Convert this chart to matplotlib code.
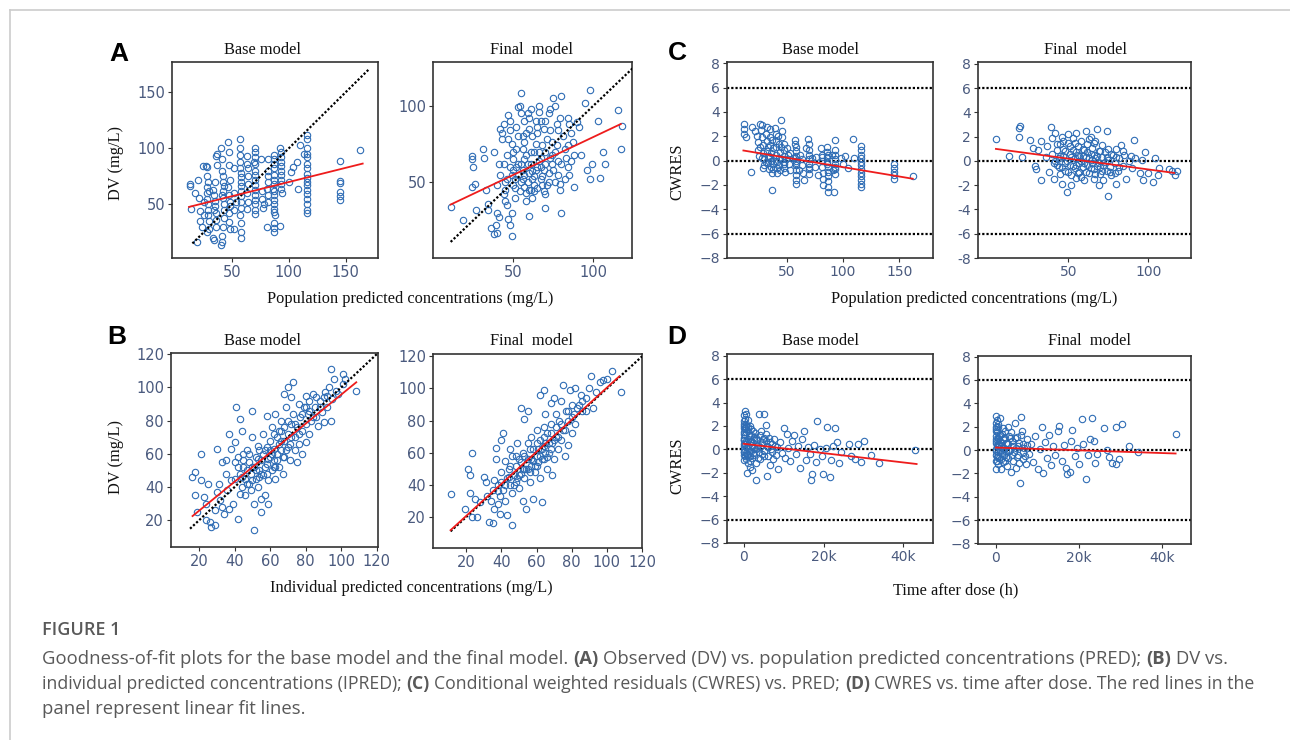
import matplotlib.pyplot as plt
from matplotlib.lines import Line2D
from matplotlib.ticker import FuncFormatter

# ---------------- data ----------------
# panel A, base model: (PRED, DV)
a_base_pts = [
    (13, 68), (13, 66), (14, 46), (17, 60), (19, 16), (20, 72), (21, 56), (22, 44), (22, 35),
    (23, 30), (24, 84), (25, 40), (25, 52),
    (27, 84), (28, 83), (28, 75), (28, 65), (28, 60), (28, 55), (29, 50), (29, 45), (29, 40),
    (30, 35), (30, 28), (28, 25),
    (33, 63), (34, 58), (35, 53), (35, 48), (36, 42), (36, 36), (33, 20), (34, 18), (35, 70),
    (36, 93), (37, 95), (37, 85),
    (40, 100), (41, 90), (41, 80), (42, 75), (42, 70), (42, 62), (42, 56), (43, 50), (43, 45),
    (43, 38), (42, 30), (41, 22), (41, 16), (40, 14),
    (46, 106), (47, 97), (47, 85), (46, 65), (47, 58), (48, 52), (48, 48), (47, 34), (48, 28),
    (52, 82), (52, 60), (52, 45), (52, 28),
    (57, 108), (57, 100), (57, 94), (57, 88), (58, 78), (58, 74), (58, 70), (58, 66), (58, 62),
    (58, 57), (58, 52), (58, 47), (57, 40), (58, 33), (58, 25), (58, 20),
    (63, 93), (63, 86), (64, 75), (64, 68), (63, 60), (64, 52), (63, 46),
    (70, 100), (70, 97), (70, 92), (70, 86), (70, 80), (70, 76), (70, 72), (70, 67), (70, 63),
    (70, 58), (70, 54), (70, 50), (70, 45), (70, 41),
    (75, 90), (76, 62), (76, 55), (78, 50), (77, 47),
    (82, 90), (82, 80), (82, 70), (81, 64), (82, 58), (82, 52), (81, 30),
    (87, 94), (87, 90), (87, 86), (87, 82), (87, 76), (87, 72), (87, 68), (87, 62), (87, 58),
    (87, 54), (87, 50), (87, 46), (87, 43), (87, 33), (87, 29), (87, 25),
    (92, 100), (93, 97), (93, 92), (93, 88), (93, 84), (93, 80), (93, 76), (93, 72), (93, 68),
    (93, 64), (92, 31),
    (102, 79), (104, 83), (107, 88), (110, 103), (113, 95), (108, 64), (100, 70),
    (116, 112), (116, 108), (116, 100), (116, 95), (116, 92), (116, 86), (116, 82), (116, 77),
    (116, 73), (116, 70), (116, 67), (116, 63), (116, 59), (116, 55), (116, 50), (116, 45),
    (116, 42),
    (145, 89), (145, 71), (145, 69), (145, 61), (145, 57), (145, 54),
    (163, 98),
    (29, 70), (30, 62), (34, 45), (36, 30), (41, 58), (43, 66), (47, 42), (48, 72), (53, 52),
    (57, 82), (64, 82), (69, 88), (82, 75), (86, 64), (88, 40), (94, 60),
]
a_base_fit_x = [12, 165]
a_base_fit_y = [47.6, 86.3]
a_base_ident = [15, 170]

# panel A, final model: (PRED, DV)
a_final_pts = [
    (11, 34), (19, 25), (24, 67), (24, 65), (25, 60), (24, 47), (26, 49), (27, 32),
    (31, 72), (32, 66), (33, 45), (34, 36), (34, 32),
    (36, 20), (38, 16), (39, 22), (40, 17), (40, 30), (41, 27),
    (38, 70), (40, 48), (42, 55), (41, 62), (42, 85), (43, 82), (44, 88), (43, 78), (44, 42),
    (45, 50), (45, 45), (45, 38), (46, 35), (47, 26), (48, 22), (49, 30), (49, 15),
    (47, 94), (48, 90), (49, 75), (50, 70), (50, 65), (50, 58), (51, 52), (51, 46), (51, 40),
    (52, 60), (52, 86), (53, 99), (54, 100), (55, 95), (55, 108), (56, 80), (56, 72), (57, 65),
    (57, 55), (57, 47), (58, 43), (58, 38), (59, 95), (60, 92), (60, 85), (60, 28),
    (61, 62), (62, 57), (62, 52), (63, 48), (63, 44), (63, 70), (64, 75), (65, 82), (65, 86),
    (66, 100), (66, 96), (67, 90), (67, 66), (67, 60), (68, 54), (68, 48), (69, 44), (70, 42),
    (70, 33), (70, 70), (71, 78), (72, 95), (73, 84), (74, 68), (74, 62), (75, 58), (75, 105),
    (76, 100), (77, 88), (77, 74), (78, 64), (78, 55), (79, 49), (79, 45), (80, 30), (80, 106),
    (81, 80), (82, 72), (83, 66), (84, 60), (84, 92), (85, 88), (85, 55), (86, 82), (87, 76),
    (88, 68), (88, 47), (90, 89), (91, 86), (92, 68), (95, 102), (98, 110), (96, 58), (98, 52),
    (99, 62), (103, 90), (104, 53), (106, 70), (107, 62), (115, 97), (118, 87), (117, 72),
    (55, 62), (59, 50), (61, 45), (64, 58), (53, 55), (56, 52), (66, 64), (72, 50), (69, 58),
    (44, 62), (46, 68), (47, 78), (48, 84), (49, 55), (50, 48), (52, 72), (53, 62), (54, 44),
    (55, 50), (56, 58), (57, 76), (58, 68), (58, 82), (59, 62), (60, 45), (60, 56), (61, 70),
    (62, 80), (62, 40), (63, 54), (64, 90), (65, 46), (65, 60), (66, 70), (67, 52), (68, 74),
    (69, 85), (70, 62), (71, 48), (72, 56), (73, 66), (74, 76), (76, 50), (76, 70), (78, 84),
    (80, 62), (82, 52), (84, 74), (86, 64), (48, 60), (46, 52), (53, 80), (57, 90), (61, 98),
    (70, 90), (73, 98), (79, 92),
]
a_final_fit_x = [11, 117]
a_final_fit_y = [35.4, 88]
a_final_ident = [11, 135]

# panel B, base model: (IPRED, DV)
b_base_pts = [
    (16, 46), (18, 49), (18, 35), (19, 25), (21, 60), (21, 44), (23, 34), (24, 30), (24, 20),
    (25, 42), (26, 19), (27, 16), (29, 17), (29, 26), (30, 63), (30, 37), (31, 42), (32, 32),
    (33, 28), (33, 55), (34, 24), (35, 48), (35, 56), (36, 38), (37, 27), (37, 72), (38, 63),
    (38, 44), (39, 30), (40, 55), (40, 67), (42, 21), (41, 88), (42, 58), (43, 81), (43, 48),
    (43, 36), (44, 74), (44, 40), (45, 60), (45, 52), (46, 45), (46, 35), (47, 62), (48, 42),
    (48, 55), (49, 48), (49, 38), (50, 86), (51, 14), (50, 70), (51, 52), (51, 30), (52, 58),
    (52, 45), (53, 40), (53, 65), (54, 50), (55, 33), (55, 25), (55, 56), (56, 72), (56, 47),
    (57, 62), (57, 35), (58, 83), (58, 54), (59, 44), (59, 30), (60, 68), (60, 58), (61, 50),
    (61, 76), (62, 63), (62, 56), (63, 45), (63, 84), (64, 70), (64, 60), (65, 52), (65, 66),
    (66, 80), (66, 74), (67, 58), (67, 48), (68, 96), (68, 68), (69, 88), (69, 62), (70, 100),
    (70, 72), (71, 66), (71, 56), (72, 94), (72, 78), (73, 103), (73, 84), (74, 70), (74, 62),
    (75, 76), (75, 55), (76, 90), (76, 66), (77, 82), (78, 74), (78, 60), (79, 88), (80, 95),
    (80, 78), (80, 67), (81, 84), (82, 92), (82, 72), (83, 80), (84, 96), (85, 88), (86, 94),
    (86, 82), (87, 77), (88, 92), (89, 85), (90, 79), (91, 97), (92, 88), (93, 100), (94, 111),
    (94, 80), (95, 93), (96, 105), (97, 98), (98, 96), (101, 108), (101, 102), (102, 105),
    (108, 98), (54, 46), (57, 52), (59, 57), (61, 60), (63, 52), (66, 62), (50, 44), (47, 50),
    (40, 45), (42, 52), (44, 46), (45, 56), (47, 42), (48, 60), (50, 52), (52, 50), (53, 57),
    (54, 62), (55, 48), (56, 60), (58, 48), (58, 64), (60, 62), (62, 52), (62, 72), (64, 56),
    (65, 74), (66, 68), (68, 58), (68, 76), (70, 64), (70, 80), (72, 70), (74, 78), (76, 72),
    (78, 84), (80, 88), (82, 86), (84, 82), (88, 88), (90, 94), (92, 95),
]
b_base_fit_x = [16.4, 108.4]
b_base_fit_y = [22.6, 103]
b_base_ident = [15, 120]

# panel B, final model: (IPRED, DV)
b_final_pts = [
    (11, 34), (19, 25), (21, 50), (22, 46), (22, 35), (23, 60), (23, 20), (25, 31), (26, 20),
    (28, 29), (30, 45), (31, 42), (32, 33), (33, 17), (34, 30), (35, 16), (35, 37), (36, 43),
    (36, 25), (37, 56), (37, 63), (38, 28), (38, 40), (39, 33), (39, 22), (40, 68), (40, 48),
    (41, 72), (41, 37), (42, 30), (42, 55), (43, 44), (43, 21), (44, 50), (45, 62), (45, 40),
    (46, 15), (46, 35), (46, 58), (47, 46), (48, 52), (48, 42), (49, 66), (50, 38), (50, 56),
    (51, 88), (51, 47), (52, 30), (52, 60), (53, 81), (53, 44), (54, 50), (54, 25), (55, 86),
    (55, 66), (55, 56), (56, 42), (57, 70), (57, 52), (58, 31), (58, 62), (59, 48), (60, 74),
    (60, 58), (61, 54), (62, 68), (62, 96), (62, 44), (63, 29), (63, 62), (64, 99), (64, 76),
    (64, 56), (65, 84), (65, 66), (66, 50), (66, 72), (67, 60), (68, 91), (68, 78), (69, 66),
    (69, 46), (70, 94), (70, 56), (71, 84), (71, 70), (72, 62), (73, 80), (74, 92), (74, 68),
    (75, 102), (75, 74), (76, 58), (77, 86), (78, 80), (78, 65), (79, 99), (80, 90), (80, 72),
    (81, 84), (82, 100), (82, 78), (84, 90), (85, 96), (86, 86), (88, 94), (90, 100), (91, 108),
    (92, 88), (94, 98), (96, 104), (98, 105), (100, 106), (103, 111), (108, 98),
    (56, 48), (58, 55), (60, 52), (62, 58), (64, 64), (66, 57), (53, 50), (50, 46), (68, 62),
    (38, 36), (40, 42), (42, 40), (44, 45), (45, 52), (47, 40), (48, 58), (49, 44), (51, 54),
    (52, 50), (53, 58), (55, 50), (56, 62), (57, 56), (59, 52), (60, 66), (61, 62), (63, 56),
    (64, 70), (65, 60), (67, 66), (68, 72), (70, 68), (71, 76), (72, 70), (74, 78), (76, 74),
    (78, 86), (80, 82), (83, 88), (86, 92), (88, 86),
]
b_final_fit_x = [11, 107]
b_final_fit_y = [11.7, 107.5]
b_final_ident = [11, 120]

# panel C, base model: (PRED, CWRES)
c_base_pts = [
    (12, 3.0), (12, 2.6), (12, 2.2), (14, 1.9), (18, -0.9), (19, 2.8), (22, 2.4), (23, 2.0),
    (24, 1.5), (24, 0.9), (25, 0.4), (26, 3.0), (27, 2.5), (28, 2.9), (28, 1.9), (29, 1.3),
    (29, 0.6), (30, 0.1), (30, -0.4), (31, 2.2), (32, 1.6), (32, 0.8), (33, 0.3), (33, -0.2),
    (34, -0.7), (35, 2.6), (35, 1.9), (35, 1.3), (36, 0.6), (36, 0.0), (36, -0.5), (37, -1.0),
    (38, 1.0), (39, 2.7), (40, 2.2), (40, 1.6), (40, 1.1), (40, 0.5), (41, -0.1), (41, -0.6),
    (41, -1.0), (37, -2.4), (43, 1.4), (43, 0.2), (44, -0.8), (45, 3.3), (46, 2.4), (46, 1.9),
    (47, 1.4), (47, 0.9), (47, 0.4), (47, -0.1), (47, -0.6), (48, -0.9), (50, 1.0), (51, 0.5),
    (52, -0.3), (53, -0.8), (55, 0.2), (57, 1.7), (57, 1.4), (58, 1.1), (58, 0.8), (58, 0.4),
    (58, 0.0), (58, -0.4), (58, -0.8), (58, -1.2), (58, -1.6), (58, -1.9), (62, 0.5), (63, 0.1),
    (63, -0.4), (64, -1.0), (65, -1.6), (67, 1.0), (69, 1.8), (70, 1.4), (70, 0.9), (70, 0.5),
    (70, 0.1), (70, -0.3), (70, -0.7), (70, -1.1), (72, 0.2), (75, -0.5), (76, 0.3), (78, -1.2),
    (80, 1.0), (81, 0.5), (81, 0.0), (81, -0.5), (82, -1.0), (82, -1.5), (82, -2.0), (86, 1.1),
    (86, 0.7), (86, 0.3), (86, -0.1), (87, -0.5), (87, -0.9), (87, -1.3), (87, -1.7), (87, -2.2),
    (87, -2.6), (90, 0.5), (91, -0.8), (93, 1.7), (93, 0.9), (93, 0.5), (93, 0.1), (93, -0.3),
    (93, -0.7), (93, -1.1), (92, -2.6), (98, 0.2), (100, -0.3), (102, 0.4), (104, -0.6),
    (109, 1.8), (110, 0.2), (116, 1.2), (116, 0.9), (116, 0.5), (116, 0.2), (116, -0.1),
    (116, -0.4), (116, -0.7), (116, -1.0), (116, -1.3), (116, -1.6), (116, -1.9), (116, -2.2),
    (145, -0.3), (145, -0.6), (145, -0.9), (145, -1.2), (145, -1.5), (162, -1.25),
    (26, 1.1), (31, -0.1), (34, 0.4), (38, -0.3), (44, 0.7), (49, 0.1), (53, 0.6), (61, -0.8),
    (28, 0.2), (29, -0.6), (32, 2.8), (33, 1.1), (35, 0.3), (37, 1.7), (38, -0.7), (40, 0.0),
    (42, 2.0), (43, -0.4), (45, 1.1), (46, 0.1), (47, -0.3), (57, 0.2), (58, -0.2), (70, -0.5),
    (81, 0.3), (86, -0.3), (87, 0.5), (93, -0.5),
]
c_base_fit_x = [11.3, 162]
c_base_fit_y = [0.83, -1.49]

# panel C, final model: (PRED, CWRES)
c_final_pts = [
    (5, 1.8), (13, 0.4), (19, 2.7), (20, 2.9), (19, 2.0), (21, 0.3), (26, 1.7), (28, 1.1),
    (29, -0.4), (30, -0.7), (31, 0.9), (33, 1.6), (33, -1.6), (36, 0.3), (37, 1.2), (38, -0.9),
    (39, 2.8), (40, 1.9), (40, 0.6), (41, -0.2), (41, -1.5), (42, 2.3), (43, 1.4), (43, 0.9),
    (44, 0.2), (44, -0.5), (45, -1.1), (46, -1.9), (46, 2.0), (47, 1.0), (47, 0.4), (48, -0.2),
    (48, -0.8), (49, -2.6), (50, 2.2), (50, 1.5), (51, 0.6), (51, -0.3), (52, -1.2), (52, -2.0),
    (53, 1.9), (53, 0.9), (54, 0.2), (54, -0.6), (55, 2.3), (55, -1.4), (56, 1.2), (56, 0.5),
    (57, -0.2), (57, -0.9), (58, 1.6), (58, 0.0), (59, -0.5), (60, 0.9), (60, -1.6), (61, 2.5),
    (61, 0.3), (62, -0.3), (62, 1.4), (63, -1.0), (64, 2.0), (64, 0.6), (65, -0.2), (65, 1.1),
    (66, -0.7), (66, -1.5), (67, 0.2), (67, 1.6), (68, 2.6), (68, -0.4), (69, 0.8), (69, -2.0),
    (70, -1.1), (71, 0.3), (71, 1.3), (72, -0.3), (72, -1.6), (73, 0.7), (74, 2.5), (74, -0.8),
    (75, 1.0), (75, 0.1), (76, -0.5), (77, -1.2), (78, 0.5), (75, -2.9), (79, -0.2), (80, 1.0),
    (80, -1.9), (81, -0.8), (82, 0.2), (83, 1.3), (84, -0.4), (85, 0.5), (86, -1.5), (88, 0.0),
    (89, 0.4), (90, -0.6), (92, 0.2), (91, 1.7), (95, -1.0), (96, 0.1), (97, -1.6), (98, 0.7),
    (100, -1.0), (103, -1.7), (104, 0.2), (106, -1.2), (107, -0.6), (113, -0.7), (115, -0.8),
    (117, -1.2), (118, -0.8),
    (45, 0.4), (49, 0.0), (52, 0.3), (55, -0.3), (59, 0.4), (63, 0.2), (66, 0.5), (70, -0.5),
    (42, 0.0), (43, -0.3), (45, 1.4), (46, -0.5), (47, 1.6), (48, 0.8), (50, -0.9), (51, 1.2),
    (53, -0.4), (54, 1.5), (55, 0.7), (56, -1.0), (57, 0.4), (58, -1.3), (59, 1.0), (60, -0.2),
    (61, -0.9), (62, 0.7), (63, 1.8), (64, -0.6), (65, 0.1), (66, 1.5), (67, -1.1), (68, 0.4),
    (69, -0.2), (70, 0.8), (71, -0.8), (73, -0.1), (74, 0.3), (76, -0.9), (77, 0.6), (79, -1.0),
    (80, 0.3), (82, -0.5), (84, 0.8),
]
c_final_fit_x = [4.8, 116.2]
c_final_fit_y = [0.99, -0.99]

# panel D, base model: (time after dose, CWRES)
d_base_pts = [
    (0, 2.9), (0, 2.4), (0, 2.0), (0, 1.5), (0, 1.0), (0, 0.5), (0, 0.0), (0, -0.5), (0, -0.9),
    (300, 3.3), (300, 2.6), (400, 1.8), (400, 1.2), (500, 0.7), (500, 0.2), (500, -0.3),
    (600, -0.8), (700, 3.0), (800, -2.0), (1000, 2.5), (1000, 1.6), (1000, 0.9), (1100, 0.3),
    (1200, -0.4), (1200, -1.2), (1500, 2.0), (1500, -1.5), (1800, 1.2), (1800, 0.6),
    (1800, -0.1), (2000, -0.7), (2000, -1.8), (2300, 1.6), (2500, 0.8), (2500, 0.1),
    (2700, -0.5), (3000, -2.6), (3000, 1.0), (3200, -1.2), (3900, 3.0), (3600, 0.4),
    (3800, -0.2), (4000, 1.2), (4200, -0.8), (4500, 0.6), (5000, 3.0), (5000, -0.1),
    (5200, 1.0), (5800, -2.3), (5700, 2.1), (5800, 0.3), (6000, -0.6), (6300, 1.0),
    (6500, -1.3), (7000, 0.5), (7200, -0.2), (7500, 0.9), (8000, -0.5), (8300, 0.2),
    (8700, -1.7), (9000, 0.6), (9500, -0.3), (10000, 1.8), (10300, -0.7), (10800, 1.3),
    (11000, 0.1), (11500, -1.0), (12000, 0.7), (12500, 1.2), (13000, -0.4), (13500, 0.3),
    (14000, -1.6), (14500, 0.9), (15000, 1.6), (15500, -0.9), (16000, 0.2), (16500, -0.4),
    (16800, -2.6), (17100, -2.1), (17500, 0.4), (18000, -1.1), (18300, 2.4), (19000, 0.0),
    (19500, -0.6), (19800, -2.1), (20500, 0.1), (20800, 1.9), (21500, -2.4), (22000, -0.9),
    (22500, 0.3), (22900, 1.8), (23500, 0.6), (24000, -1.2), (24500, -0.2), (26500, 0.5),
    (27000, -0.6), (28000, -0.8), (28700, 0.5), (29500, -1.1), (30200, 0.7), (32000, -0.5),
    (34000, -1.2), (43000, -0.05),
    (100, 1.3), (200, 0.8), (200, -0.2), (700, 1.9), (900, 0.1), (1300, 1.2), (1600, -0.6),
    (2200, 0.4), (2800, 1.4), (3300, 0.1), (4700, -0.4), (5500, 0.7), (6800, 0.0), (7800, 0.3),
    (0, 1.8), (0, 0.8), (0, -0.2), (100, 2.2), (150, 0.3), (300, -0.6), (400, 0.5), (500, 1.5),
    (600, 2.2), (800, 0.6), (900, -0.5), (1100, 1.9), (1300, -0.1), (1500, 0.6), (1700, -1.0),
    (1900, 1.7), (2100, 0.2), (2400, -0.3), (2600, 1.1), (3000, 0.0), (3400, 0.8), (3600, -0.7),
    (4100, 0.2), (4400, 1.6), (4800, 0.9), (5200, -0.6), (5600, 1.3), (6000, 0.2), (6600, 0.6),
    (7400, -0.8),
]
d_base_fit_x = [0, 43300]
d_base_fit_y = [0.48, -1.25]

# panel D, final model: (time after dose, CWRES)
d_final_pts = [
    (0, 2.9), (0, 2.3), (0, 1.8), (0, 1.2), (0, 0.6), (0, 0.1), (0, -0.4), (0, -0.9), (0, -1.6),
    (300, 2.6), (300, 1.5), (400, 0.9), (400, -0.2), (500, -1.2), (600, 2.2), (700, 0.4),
    (800, -0.7), (1000, 2.7), (1000, 1.3), (1100, -1.6), (1300, 0.7), (1500, -0.3), (1700, 1.9),
    (1800, -1.0), (2000, 0.2), (2200, 1.0), (2400, -0.6), (2600, -1.4), (2800, 2.0), (3000, 0.5),
    (3200, -0.1), (3500, -1.9), (3700, 1.5), (4000, 0.3), (4200, -0.9), (4500, 2.3),
    (4700, -1.5), (5000, 1.1), (5200, -0.4), (5500, 0.6), (5800, -2.85), (6000, 2.8),
    (6200, 1.6), (6500, -0.8), (6800, 0.2), (7200, -1.2), (7500, 0.9), (8000, -0.3), (8500, 0.5),
    (9000, -1.0), (9500, 1.2), (10000, -1.6), (10500, 0.1), (11000, 2.0), (11300, -2.0),
    (11800, 0.7), (12300, -0.7), (12800, 1.3), (13300, -1.3), (13800, 0.3), (14300, -0.4),
    (15000, 1.6), (15200, 2.05), (15800, -0.9), (16300, 0.4), (16800, -1.5), (17000, -2.05),
    (17800, -1.9), (18000, 0.8), (18400, 1.75), (19000, -0.5), (19500, 0.2), (20000, -1.2),
    (20600, 2.65), (21000, 0.5), (21600, -2.5), (22200, -0.4), (22700, 0.9), (23200, 2.7),
    (23500, 0.8), (23800, -1.1), (24300, -0.3), (26000, 1.9), (26800, 0.0), (27300, -0.6),
    (28000, -1.1), (28800, -1.2), (28800, 1.95), (29500, -0.8), (30400, 2.2), (32000, 0.35),
    (34200, -0.2), (43300, 1.4),
    (100, 0.9), (200, -0.6), (600, 1.0), (900, -0.2), (1200, 0.3), (1600, 0.9), (2100, -0.9),
    (2700, 0.6), (3300, 1.0), (3900, -0.4), (4800, 0.2), (5600, -1.1), (6400, 0.5), (7000, -0.5),
    (0, 2.0), (0, 0.8), (0, -0.1), (100, 1.6), (200, 0.3), (300, -0.9), (400, 2.0), (500, 0.5),
    (600, -0.5), (800, 1.2), (900, 0.0), (1100, 0.6), (1300, -0.8), (1500, 1.4), (1700, 0.2),
    (1900, -0.4), (2100, 1.6), (2300, -0.1), (2500, 0.6), (2900, -0.7), (3100, 1.2), (3400, 0.0),
    (3800, 0.8), (4300, -0.2), (4600, 1.0), (5000, -0.6), (5400, 0.3), (5900, 1.3), (6600, -0.2),
    (7400, 0.4),
]
d_final_fit_x = [0, 43200]
d_final_fit_y = [0.21, -0.30]

cwres_refs = [6, 0, -6]

# caption text, one list of (text, bold) runs per line
caption_lines = [
    [("Goodness-of-fit plots for the base model and the final model.", False), ("(A)", True),
     ("Observed (DV) vs. population predicted concentrations (PRED);", False), ("(B)", True),
     ("DV vs.", False)],
    [("individual predicted concentrations (IPRED);", False), ("(C)", True),
     ("Conditional weighted residuals (CWRES) vs. PRED;", False), ("(D)", True),
     ("CWRES vs. time after dose. The red lines in the", False)],
    [("panel represent linear fit lines.", False)],
]

# ---------------- styling ----------------
W, H = 1290, 740
BLUE = "#2f6db5"
RED = "#ee1c1c"
TICK_COL = "#4a5a7e"
SPINE = "#333333"
CAP_COL = "#595959"
SERIF = "Liberation Serif"
DOTS = (0, (1, 0.9))

fig = plt.figure(figsize=(W / 100, H / 100), dpi=100)


def box(l, t, r, b):
    return [l / W, 1 - b / H, (r - l) / W, (b - t) / H]


def ftext(x, y, s, **kw):
    return fig.text(x / W, 1 - y / H, s, **kw)


def fmt_minus(minus):
    def f(v, pos):
        return ("%g" % v).replace("-", minus)
    return FuncFormatter(f)


def panel(rect, pts, fit_x, fit_y, xlim, ylim, xticks, yticks,
          ident=None, hlines=False, minus="\u2212", kticks=False, lsize=10.5):
    ax = fig.add_axes(box(*rect))
    x, y = zip(*pts)
    if hlines:
        for h in cwres_refs:
            ax.axhline(h, color="black", lw=1.6, ls=DOTS, zorder=1)
    ax.plot(x, y, "o", ms=4.6, mfc="none", mec=BLUE, mew=0.8, zorder=2)
    if ident is not None:
        ax.plot(ident, ident, color="black", lw=1.6, ls=DOTS, zorder=3)
    ax.plot(fit_x, fit_y, color=RED, lw=1.3, zorder=4)
    ax.set_xlim(*xlim)
    ax.set_ylim(*ylim)
    ax.set_xticks(xticks)
    ax.set_yticks(yticks)
    if kticks:
        ax.set_xticklabels(["0" if t == 0 else "%dk" % (t // 1000) for t in xticks])
    else:
        ax.xaxis.set_major_formatter(fmt_minus(minus))
    ax.yaxis.set_major_formatter(fmt_minus(minus))
    ax.tick_params(direction="out", length=3, width=0.8, color=SPINE,
                   labelcolor=TICK_COL, labelsize=lsize, pad=2)
    for sp in ax.spines.values():
        sp.set_color(SPINE)
        sp.set_linewidth(1.2)
    return ax


# row 1
panel((172, 62, 378, 258), a_base_pts, a_base_fit_x, a_base_fit_y,
      (-3, 178.5), (2, 177), [50, 100, 150], [50, 100, 150], ident=a_base_ident)
panel((433, 62, 632, 258), a_final_pts, a_final_fit_x, a_final_fit_y,
      (0, 124), (0.5, 128.5), [50, 100], [50, 100], ident=a_final_ident)
panel((727, 62, 933, 258), c_base_pts, c_base_fit_x, c_base_fit_y,
      (-3.3, 180), (-8, 8.1), [50, 100, 150], list(range(-8, 9, 2)), hlines=True, lsize=10)
panel((978, 62, 1191, 258), c_final_pts, c_final_fit_x, c_final_fit_y,
      (-6.4, 126.7), (-8, 8.15), [50, 100], list(range(-8, 9, 2)), hlines=True, minus="-",
      lsize=10)

# row 2
panel((171, 353, 378, 547), b_base_pts, b_base_fit_x, b_base_fit_y,
      (4.3, 120.6), (4, 120.6), list(range(20, 121, 20)), list(range(20, 121, 20)),
      ident=b_base_ident)
panel((433, 354, 642, 548), b_final_pts, b_final_fit_x, b_final_fit_y,
      (1, 120), (0.6, 121.5), list(range(20, 121, 20)), list(range(20, 121, 20)),
      ident=b_final_ident)
panel((727, 354, 933, 543), d_base_pts, d_base_fit_x, d_base_fit_y,
      (-4150, 47400), (-8, 8.15), [0, 20000, 40000], list(range(-8, 9, 2)),
      hlines=True, kticks=True, lsize=10)
panel((978, 356, 1191, 544), d_final_pts, d_final_fit_x, d_final_fit_y,
      (-4320, 46900), (-8.05, 8.05), [0, 20000, 40000], list(range(-8, 9, 2)),
      hlines=True, kticks=True, lsize=10)

# titles, axis labels, panel letters
for cx, cy, s in [(263, 50, "Base model"), (531, 50, "Final  model"),
                  (820, 50, "Base model"), (1085, 50, "Final  model"),
                  (263, 341, "Base model"), (531, 341, "Final  model"),
                  (821, 341, "Base model"), (1090, 341, "Final  model")]:
    ftext(cx, cy, s, family=SERIF, fontsize=11.8, ha="center", va="center", color="#111111")

for cx, cy, s in [(116, 163, "DV (mg/L)"), (677, 172, "CWRES"),
                  (116, 457, "DV (mg/L)"), (677, 466, "CWRES")]:
    ftext(cx, cy, s, family=SERIF, fontsize=11.8, ha="center", va="center",
          rotation=90, color="#111111")

for cx, cy, s in [(410, 299, "Population predicted concentrations (mg/L)"),
                  (974, 299, "Population predicted concentrations (mg/L)"),
                  (411, 588, "Individual predicted concentrations (mg/L)"),
                  (956, 590, "Time after dose (h)")]:
    ftext(cx, cy, s, family=SERIF, fontsize=11.8, ha="center", va="center", color="#111111")

for cx, cy, s in [(119, 54, "A"), (117, 337, "B"), (677, 53, "C"), (677, 337, "D")]:
    ftext(cx, cy, s, family="Liberation Sans", fontsize=19, weight="bold",
          ha="center", va="center", color="black")

# frame lines of the figure box
fig.add_artist(Line2D([10 / W, 1], [1 - 10 / H, 1 - 10 / H], color="#cccccc", lw=1.2))
fig.add_artist(Line2D([10 / W, 10 / W], [0, 1 - 10 / H], color="#cccccc", lw=1.2))

# caption
CAP_FONT = "Open Sans"
CAP_SIZE = 13.3
CAP_X = 42
ftext(CAP_X, 630, "FIGURE 1", family=CAP_FONT, fontsize=13, weight="semibold",
      color=CAP_COL, va="center")

renderer = fig.canvas.get_renderer()


def measure(s, size, bold=False):
    t = ftext(0, 0, s, family=CAP_FONT, fontsize=size, weight="bold" if bold else "normal")
    w = t.get_window_extent(renderer=renderer).width
    t.remove()
    return w


def line_width(parts, size):
    sp = measure("a a", size) - measure("aa", size)
    return sum(measure(s, size, b) for s, b in parts) + sp * (len(parts) - 1)


def rich_line(y, parts, size):
    sp = measure("a a", size) - measure("aa", size)
    x = CAP_X
    for s, bold in parts:
        t = ftext(x, y, s, family=CAP_FONT, fontsize=size,
                  weight="bold" if bold else "normal", color=CAP_COL, va="center")
        x += t.get_window_extent(renderer=renderer).width + sp


# fit each caption line into the width it takes in the original layout
for y, parts, right in zip([659, 684, 709], caption_lines, [1232, 1256, None]):
    size = CAP_SIZE
    if right is not None:
        size = min(CAP_SIZE, CAP_SIZE * (right - CAP_X) / line_width(parts, CAP_SIZE))
    rich_line(y, parts, size)

fig.savefig("out.png", dpi=100)
